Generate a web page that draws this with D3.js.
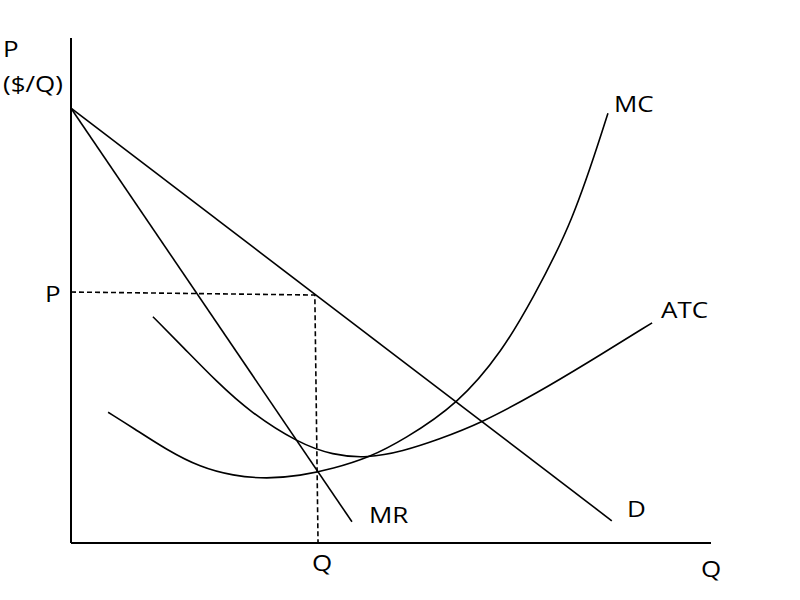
<!DOCTYPE html>
<html>
<head>
<meta charset="utf-8">
<script src="https://cdn.jsdelivr.net/npm/d3@7.9.0/dist/d3.min.js"></script>
<style>
  body { margin: 0; background: #fff; }
  svg text { font-family: "Open Sans", sans-serif; font-size: 22px; fill: #000; }
</style>
</head>
<body>
<svg id="chart" width="800" height="600"></svg>
<script>
// data in chart units (0-100 on both axes)
const demand = [[0, 86.1], [84.5, 4.4]];
const marginalRevenue = [[0, 86.1], [43.9, 4.2]];
const mcCurve = [[5.8, 25.9], [9.7, 22.8], [15.0, 18.4], [20.2, 15.0], [25.3, 13.3], [30.6, 12.7],
                 [35.8, 13.3], [40.9, 14.7], [46.7, 17.0], [51.9, 20.4], [60.5, 27.5], [67.5, 38.2],
                 [72.0, 48.1], [78.4, 63.4], [83.9, 85.1]];
const atcCurve = [[12.8, 44.8], [17.5, 38.8], [22.8, 31.9], [28.0, 25.9], [35.5, 19.8], [40.9, 17.4],
                  [46.3, 16.8], [51.9, 18.2], [57.2, 20.4], [64.2, 23.8], [72.8, 29.7], [80.6, 35.6],
                  [90.8, 43.6]];
const guide = [[0, 49.7], [38.1, 49.1], [38.6, 0]];

// labels: text and where they sit (pixels)
const labels = [
  { text: "P", x: 3, y: 57 },
  { text: "($/Q)", x: 3, y: 92 },
  { text: "MC", x: 614, y: 112 },
  { text: "ATC", x: 661, y: 318 },
  { text: "P", x: 45, y: 302 },
  { text: "MR", x: 369, y: 523 },
  { text: "D", x: 627, y: 517 },
  { text: "Q", x: 312, y: 571 },
  { text: "Q", x: 701, y: 577 }
];

const svg = d3.select("#chart");
const x = d3.scaleLinear().domain([0, 100]).range([71, 711]);
const y = d3.scaleLinear().domain([0, 100]).range([543, 38]);

const straight = d3.line().x(d => x(d[0])).y(d => y(d[1]));
const smooth = d3.line().x(d => x(d[0])).y(d => y(d[1])).curve(d3.curveBasis);

// axes (plain lines, no ticks)
svg.append("line")
  .attr("x1", x(0)).attr("y1", y(0)).attr("x2", x(0)).attr("y2", y(100))
  .attr("stroke", "#000").attr("stroke-width", 2);
svg.append("line")
  .attr("x1", x(0)).attr("y1", y(0)).attr("x2", x(100)).attr("y2", y(0))
  .attr("stroke", "#000").attr("stroke-width", 2);

// dashed guide lines for P and Q
svg.append("path")
  .attr("d", straight(guide))
  .attr("fill", "none").attr("stroke", "#000")
  .attr("stroke-width", 1.6).attr("stroke-dasharray", "5,3");

[demand, marginalRevenue].forEach(pts => {
  svg.append("path")
    .attr("d", straight(pts))
    .attr("fill", "none").attr("stroke", "#000").attr("stroke-width", 1.6);
});

[mcCurve, atcCurve].forEach(pts => {
  svg.append("path")
    .attr("d", smooth(pts))
    .attr("fill", "none").attr("stroke", "#000").attr("stroke-width", 1.6);
});

// the reference text is slightly stretched sideways
svg.selectAll("text.lbl")
  .data(labels)
  .join("text")
  .attr("class", "lbl")
  .attr("transform", d => `translate(${d.x},${d.y}) scale(1.18,1)`)
  .text(d => d.text);
</script>
</body>
</html>
